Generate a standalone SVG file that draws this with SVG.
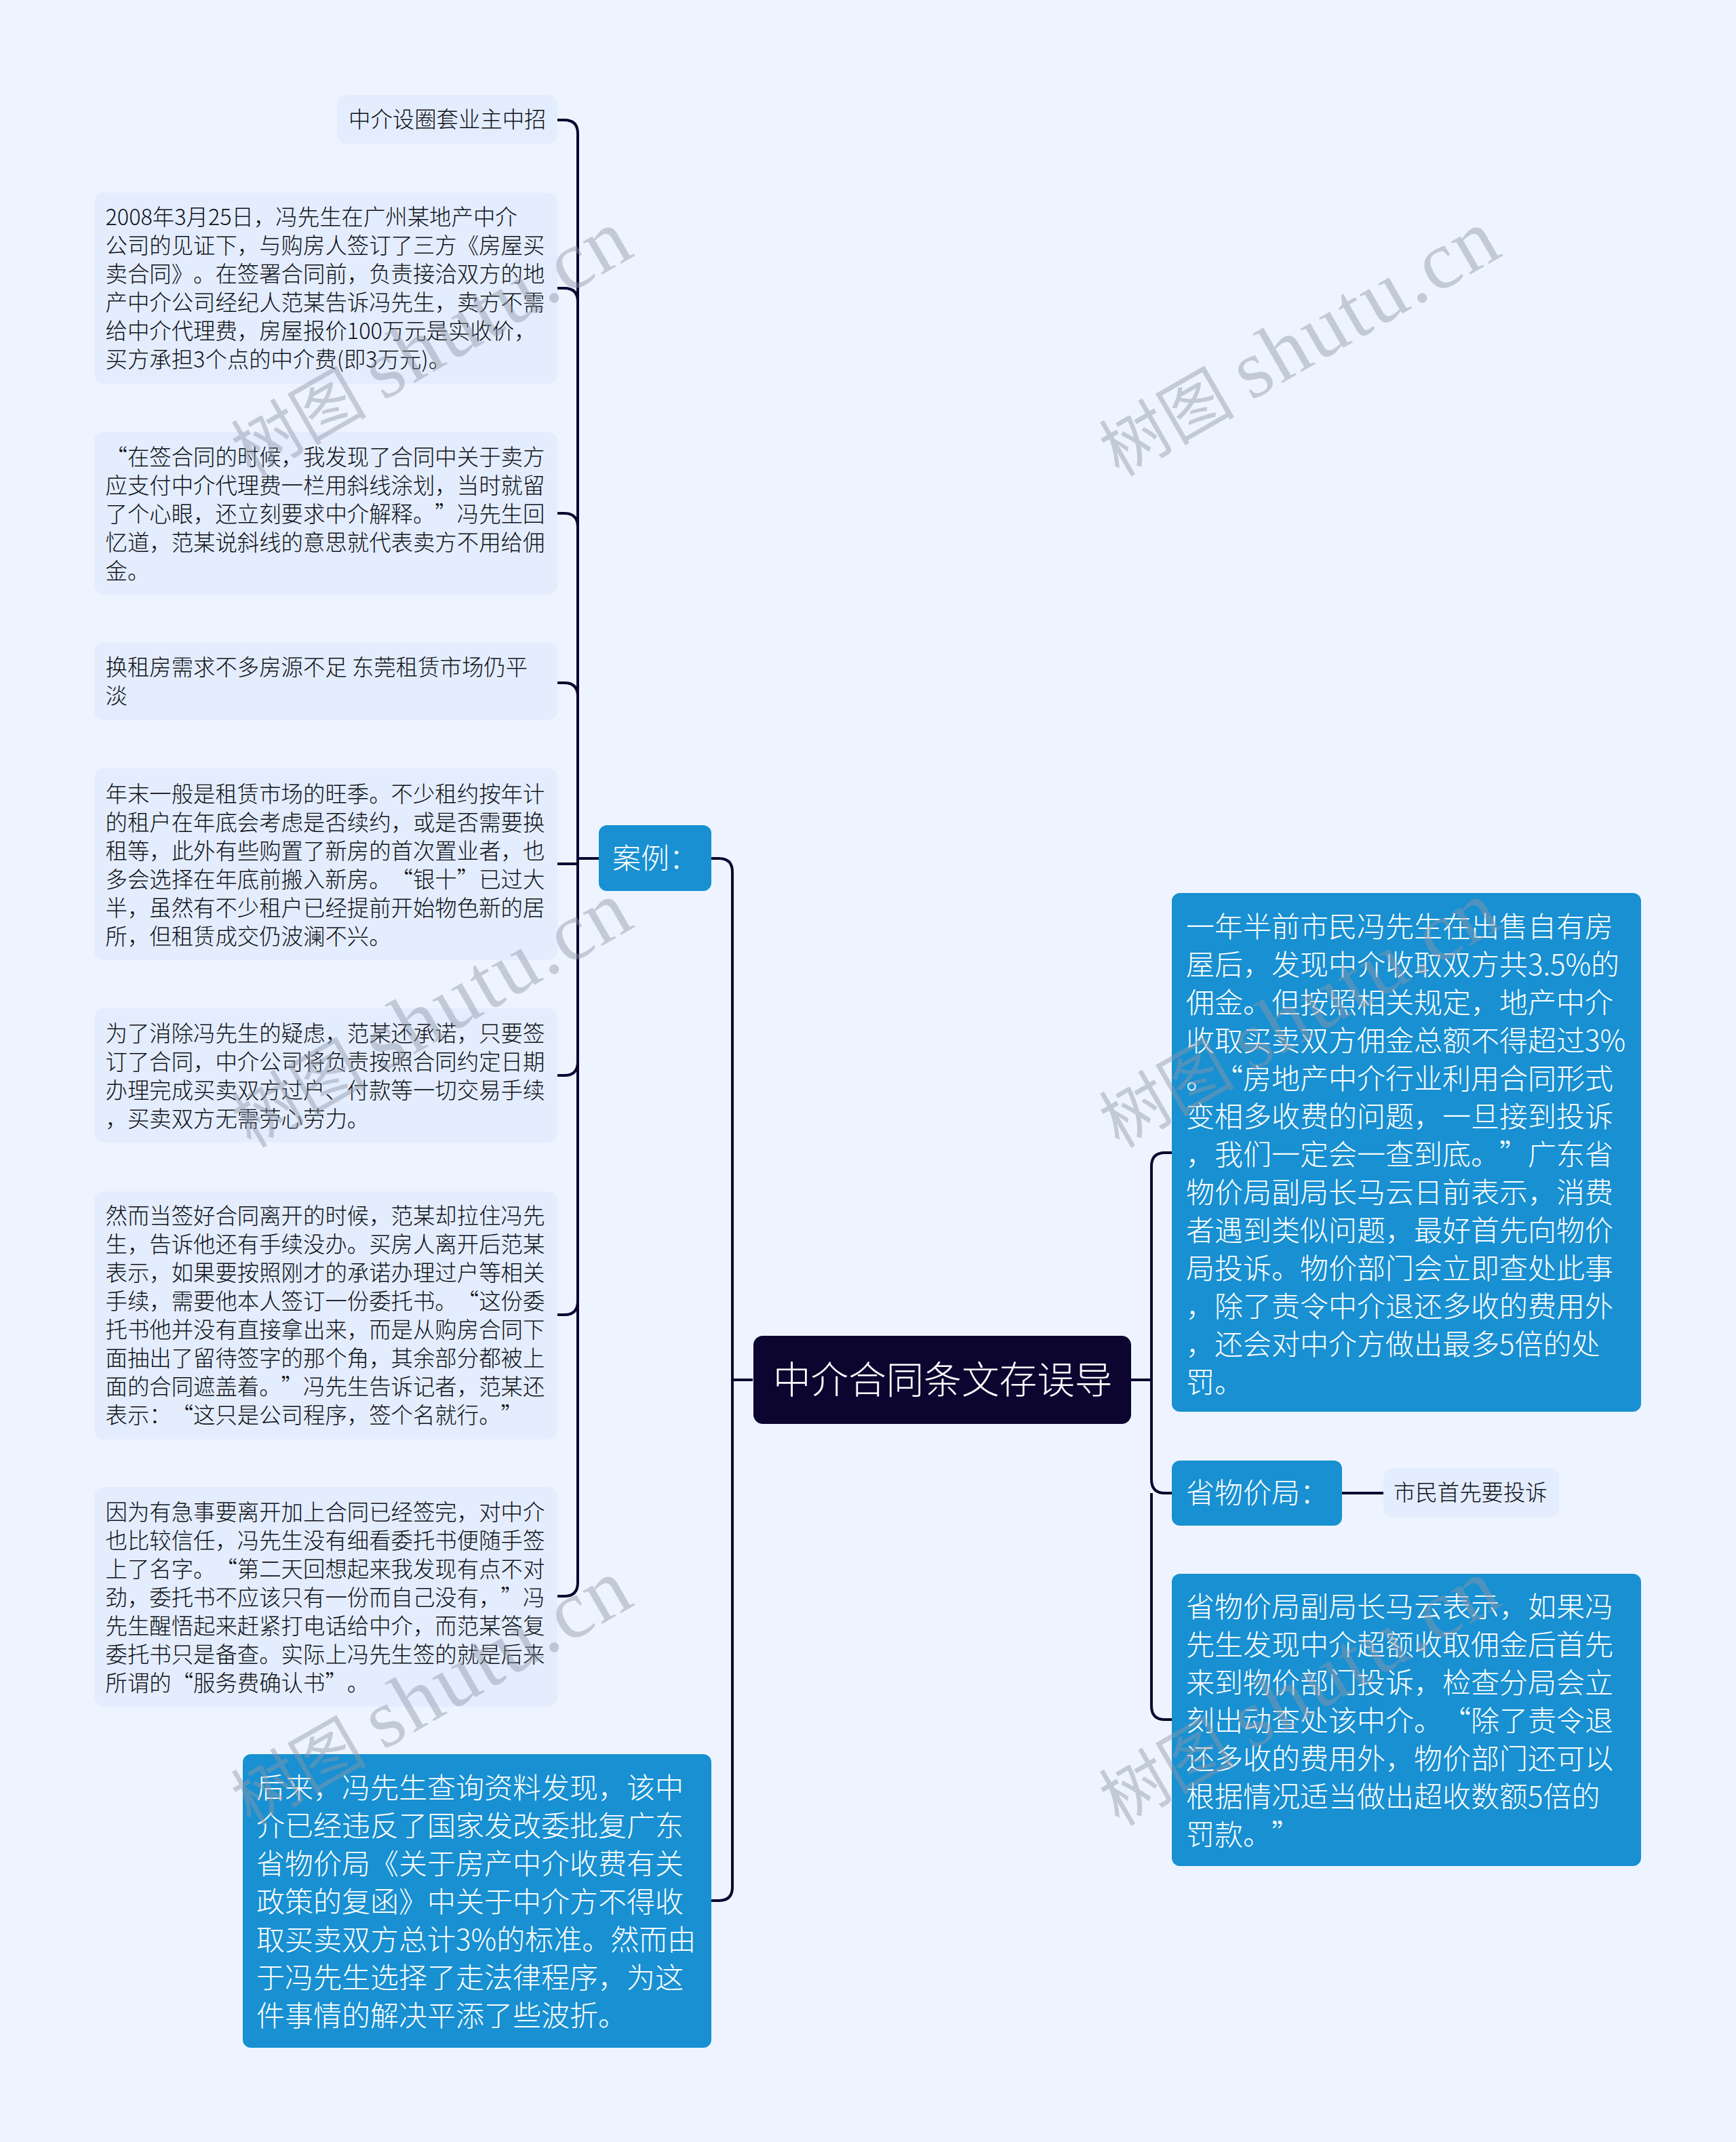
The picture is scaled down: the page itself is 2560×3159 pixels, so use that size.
<svg xmlns="http://www.w3.org/2000/svg" width="2560" height="3159" viewBox="0 0 2560 3159">
<defs><style>
text{font-family:"Noto Sans CJK SC","Microsoft YaHei",sans-serif;text-spacing-trim:space-all;font-weight:300}
.c{fill:none;stroke:#0b0530;stroke-width:4;stroke-linecap:butt}
.s rect{fill:#e4edfd}.s text{font-size:32.4px;fill:#0e1118}
.b rect{fill:#1890d2}.b text{font-size:42px;fill:#fff}
.r rect{fill:#0b0530}.r text{font-size:55.6px;fill:#fff}
.w text{font-family:"Liberation Serif","Noto Sans CJK SC",serif;font-size:100px;fill:#8f96a6;fill-opacity:.45;font-weight:400}
.w tspan{font-size:122px;letter-spacing:3px}
</style></defs>
<rect width="2560" height="3159" fill="#eef4ff"/>
<g id="connectors">
<path class="c" d="M822 177H832Q852 177 852 197V1266H883"/>
<path class="c" d="M822 425H832Q852 425 852 445V1266"/>
<path class="c" d="M822 757H832Q852 757 852 777V1266"/>
<path class="c" d="M822 1007H832Q852 1007 852 1027V1266"/>
<path class="c" d="M822 1274H852"/>
<path class="c" d="M822 1586H832Q852 1586 852 1566V1266"/>
<path class="c" d="M822 1939H832Q852 1939 852 1919V1266"/>
<path class="c" d="M822 2354H832Q852 2354 852 2334V1266"/>
<path class="c" d="M1049 1266H1060Q1080 1266 1080 1286V2035H1110"/>
<path class="c" d="M1049 2803H1060Q1080 2803 1080 2783V2035"/>
<path class="c" d="M1668 2035H1698V1720Q1698 1700 1718 1700H1728"/>
<path class="c" d="M1698 2035V2182Q1698 2202 1718 2202H1728"/>
<path class="c" d="M1698 2202V2516Q1698 2536 1718 2536H1728"/>
<path class="c" d="M1979 2202H2040"/>
</g>
<g id="root" class="r"><rect x="1111" y="1970" width="557" height="130" rx="14"/><text x="1140" y="2055">中介合同条文存误导</text></g>
<g id="case" class="b"><rect x="883" y="1217" width="166" height="97" rx="12"/><text x="903" y="1281">案例：</text></g>
<g id="n1" class="s"><rect x="497" y="140" width="325" height="72" rx="14"/><text x="514" y="188">中介设圈套业主中招</text></g>
<g id="n2" class="s"><rect x="139" y="284" width="683" height="282" rx="14"/><text x="155.5" y="332">2008年3月25日，冯先生在广州某地产中介</text><text x="155.5" y="374">公司的见证下，与购房人签订了三方《房屋买</text><text x="155.5" y="416">卖合同》。在签署合同前，负责接洽双方的地</text><text x="155.5" y="458">产中介公司经纪人范某告诉冯先生，卖方不需</text><text x="155.5" y="500">给中介代理费，房屋报价100万元是实收价，</text><text x="155.5" y="542">买方承担3个点的中介费(即3万元)。</text></g>
<g id="n3" class="s"><rect x="139" y="637" width="683" height="240" rx="14"/><text x="155.5" y="686">“在签合同的时候，我发现了合同中关于卖方</text><text x="155.5" y="728">应支付中介代理费一栏用斜线涂划，当时就留</text><text x="155.5" y="770">了个心眼，还立刻要求中介解释。”冯先生回</text><text x="155.5" y="812">忆道，范某说斜线的意思就代表卖方不用给佣</text><text x="155.5" y="854">金。</text></g>
<g id="n4" class="s"><rect x="139" y="947" width="683" height="115" rx="14"/><text x="155.5" y="996">换租房需求不多房源不足 东莞租赁市场仍平</text><text x="155.5" y="1038">淡</text></g>
<g id="n5" class="s"><rect x="139" y="1133" width="683" height="283" rx="14"/><text x="155.5" y="1183">年末一般是租赁市场的旺季。不少租约按年计</text><text x="155.5" y="1225">的租户在年底会考虑是否续约，或是否需要换</text><text x="155.5" y="1267">租等，此外有些购置了新房的首次置业者，也</text><text x="155.5" y="1309">多会选择在年底前搬入新房。“银十”已过大</text><text x="155.5" y="1351">半，虽然有不少租户已经提前开始物色新的居</text><text x="155.5" y="1393">所，但租赁成交仍波澜不兴。</text></g>
<g id="n6" class="s"><rect x="139" y="1487" width="683" height="198" rx="14"/><text x="155.5" y="1536">为了消除冯先生的疑虑，范某还承诺，只要签</text><text x="155.5" y="1578">订了合同，中介公司将负责按照合同约定日期</text><text x="155.5" y="1620">办理完成买卖双方过户、付款等一切交易手续</text><text x="155.5" y="1662">，买卖双方无需劳心劳力。</text></g>
<g id="n7" class="s"><rect x="139" y="1757" width="683" height="366" rx="14"/><text x="155.5" y="1805">然而当签好合同离开的时候，范某却拉住冯先</text><text x="155.5" y="1847">生，告诉他还有手续没办。买房人离开后范某</text><text x="155.5" y="1889">表示，如果要按照刚才的承诺办理过户等相关</text><text x="155.5" y="1931">手续，需要他本人签订一份委托书。“这份委</text><text x="155.5" y="1973">托书他并没有直接拿出来，而是从购房合同下</text><text x="155.5" y="2015">面抽出了留待签字的那个角，其余部分都被上</text><text x="155.5" y="2057">面的合同遮盖着。”冯先生告诉记者，范某还</text><text x="155.5" y="2099">表示：“这只是公司程序，签个名就行。”</text></g>
<g id="n8" class="s"><rect x="139" y="2193" width="683" height="324" rx="14"/><text x="155.5" y="2242">因为有急事要离开加上合同已经签完，对中介</text><text x="155.5" y="2284">也比较信任，冯先生没有细看委托书便随手签</text><text x="155.5" y="2326">上了名字。“第二天回想起来我发现有点不对</text><text x="155.5" y="2368">劲，委托书不应该只有一份而自己没有，”冯</text><text x="155.5" y="2410">先生醒悟起来赶紧打电话给中介，而范某答复</text><text x="155.5" y="2452">委托书只是备查。实际上冯先生签的就是后来</text><text x="155.5" y="2494">所谓的“服务费确认书”。</text></g>
<g id="left-blue" class="b"><rect x="358" y="2587" width="691" height="433" rx="12"/><text x="378" y="2652">后来，冯先生查询资料发现，该中</text><text x="378" y="2708">介已经违反了国家发改委批复广东</text><text x="378" y="2764">省物价局《关于房产中介收费有关</text><text x="378" y="2820">政策的复函》中关于中介方不得收</text><text x="378" y="2876">取买卖双方总计3%的标准。然而由</text><text x="378" y="2932">于冯先生选择了走法律程序，为这</text><text x="378" y="2988">件事情的解决平添了些波折。</text></g>
<g id="right-top" class="b"><rect x="1728" y="1317" width="692" height="765" rx="12"/><text x="1749" y="1382">一年半前市民冯先生在出售自有房</text><text x="1749" y="1438">屋后，发现中介收取双方共3.5%的</text><text x="1749" y="1494">佣金。但按照相关规定，地产中介</text><text x="1749" y="1550">收取买卖双方佣金总额不得超过3%</text><text x="1749" y="1606">。“房地产中介行业利用合同形式</text><text x="1749" y="1662">变相多收费的问题，一旦接到投诉</text><text x="1749" y="1718">，我们一定会一查到底。”广东省</text><text x="1749" y="1774">物价局副局长马云日前表示，消费</text><text x="1749" y="1830">者遇到类似问题，最好首先向物价</text><text x="1749" y="1886">局投诉。物价部门会立即查处此事</text><text x="1749" y="1942">，除了责令中介退还多收的费用外</text><text x="1749" y="1998">，还会对中介方做出最多5倍的处</text><text x="1749" y="2054">罚。</text></g>
<g id="bureau" class="b"><rect x="1728" y="2154" width="251" height="96" rx="12"/><text x="1749" y="2217">省物价局：</text></g>
<g id="bureau-child" class="s"><rect x="2040" y="2165" width="259" height="73" rx="14"/><text x="2055" y="2213">市民首先要投诉</text></g>
<g id="right-bottom" class="b"><rect x="1728" y="2321" width="692" height="431" rx="12"/><text x="1749" y="2385">省物价局副局长马云表示，如果冯</text><text x="1749" y="2441">先生发现中介超额收取佣金后首先</text><text x="1749" y="2497">来到物价部门投诉，检查分局会立</text><text x="1749" y="2553">刻出动查处该中介。“除了责令退</text><text x="1749" y="2609">还多收的费用外，物价部门还可以</text><text x="1749" y="2665">根据情况适当做出超收数额5倍的</text><text x="1749" y="2721">罚款。”</text></g>
<g id="watermarks" class="w">
<text transform="translate(370 704) rotate(-30)">树图 <tspan>shutu.cn</tspan></text>
<text transform="translate(1650 704) rotate(-30)">树图 <tspan>shutu.cn</tspan></text>
<text transform="translate(370 1694) rotate(-30)">树图 <tspan>shutu.cn</tspan></text>
<text transform="translate(1650 1694) rotate(-30)">树图 <tspan>shutu.cn</tspan></text>
<text transform="translate(370 2694) rotate(-30)">树图 <tspan>shutu.cn</tspan></text>
<text transform="translate(1650 2694) rotate(-30)">树图 <tspan>shutu.cn</tspan></text>
</g>
</svg>
